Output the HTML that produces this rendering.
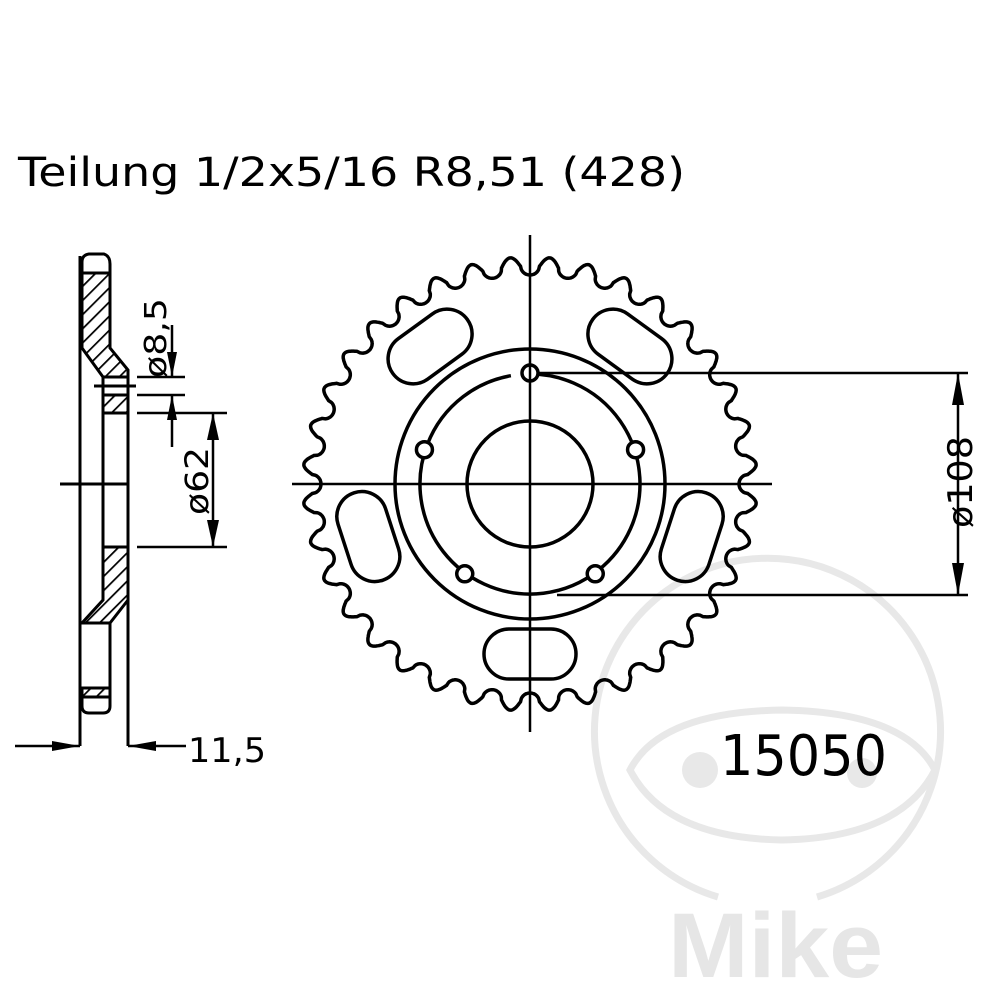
<!DOCTYPE html>
<html><head><meta charset="utf-8"><style>
html,body{margin:0;padding:0;background:#fff;}
svg{display:block;}
</style></head><body>
<svg id="s" width="1000" height="1000" viewBox="0 0 1000 1000" xmlns="http://www.w3.org/2000/svg">
<defs>
<pattern id="h" patternUnits="userSpaceOnUse" width="10" height="10" patternTransform="rotate(45)">
<rect width="10" height="10" fill="#fff"/><line x1="0" y1="0" x2="0" y2="10" stroke="#000" stroke-width="3.5"/>
</pattern>
</defs>
<g fill="none" stroke="#e8e8e8" stroke-width="7">
<path d="M718 897 A173 173 0 1 1 817 897"/>
<path d="M630 770 Q660 712 782 710 Q905 712 935 770 Q900 838 782 840 Q665 838 630 770 Z"/>
</g>
<circle cx="700" cy="770" r="18" fill="#e8e8e8"/>
<circle cx="862" cy="773" r="15" fill="#e8e8e8"/>
<text x="668" y="977" font-family="Liberation Sans, sans-serif" font-weight="bold" font-size="92" fill="#e6e6e6" textLength="215" lengthAdjust="spacingAndGlyphs">Mike</text>

<text x="18" y="186" font-family="DejaVu Sans, Liberation Sans, sans-serif" font-size="40" fill="#000" textLength="667" lengthAdjust="spacingAndGlyphs">Teilung 1/2x5/16 R8,51 (428)</text>
<text x="720" y="775" font-family="DejaVu Sans, Liberation Sans, sans-serif" font-size="56" fill="#000" textLength="167" lengthAdjust="spacingAndGlyphs">15050</text>

<g id="spr" fill="none" stroke="#000" stroke-width="3.5"></g>
<g stroke="#000" stroke-width="2.5" fill="none">
<line x1="530" y1="235" x2="530" y2="732"/>
<line x1="292" y1="484" x2="772" y2="484"/>
<line x1="537" y1="373" x2="968" y2="373"/>
<line x1="557" y1="595" x2="968" y2="595"/>
<line x1="958" y1="373" x2="958" y2="595"/>
</g>
<polygon points="958,373 952,405 964,405" fill="#000"/>
<polygon points="958,595 952,563 964,563" fill="#000"/>
<text transform="translate(972,528) rotate(-90)" font-family="DejaVu Sans, Liberation Sans, sans-serif" font-size="34" fill="#000" textLength="92" lengthAdjust="spacingAndGlyphs">ø108</text>

<g stroke="#000" stroke-width="3">
<path d="M82 262 Q82 255 89 254 L104 254 Q110 256 110 264 L110 273 L82 273 Z" fill="#fff"/>
<path d="M82 273 L110 273 L110 348 L128 370 L128 377 L103 377 L82 348 Z" fill="url(#h)"/>
<path d="M103 395 L128 395 L128 413 L103 413 Z" fill="url(#h)"/>
<path d="M103 547 L128 547 L128 600 L110 623 L82 623 L103 600 Z" fill="url(#h)"/>
<path d="M82 688 L110 688 L110 697 L82 697 Z" fill="url(#h)"/>
<path d="M82 697 L110 697 L110 706 Q110 713 103 713 L89 713 Q82 713 82 706 Z" fill="#fff"/>
<line x1="80" y1="256" x2="80" y2="746" fill="none"/>
<line x1="103" y1="377" x2="103" y2="547"/>
<line x1="128" y1="377" x2="128" y2="746"/>
<line x1="110" y1="623" x2="110" y2="688"/>
<line x1="94" y1="386" x2="136" y2="386"/>
<line x1="60" y1="484" x2="128" y2="484"/>
</g>
<g stroke="#000" stroke-width="2.5">
<line x1="137" y1="377" x2="185" y2="377"/>
<line x1="137" y1="395" x2="185" y2="395"/>
<line x1="172" y1="325" x2="172" y2="377"/>
<line x1="172" y1="395" x2="172" y2="447"/>
<line x1="137" y1="413" x2="227" y2="413"/>
<line x1="137" y1="547" x2="227" y2="547"/>
<line x1="213" y1="413" x2="213" y2="547"/>
<line x1="15" y1="746" x2="80" y2="746"/>
<line x1="128" y1="746" x2="186" y2="746"/>
</g>
<g fill="#000">
<polygon points="172,377 167,352 177,352"/>
<polygon points="172,395 167,420 177,420"/>
<polygon points="213,413 207,440 219,440"/>
<polygon points="213,547 207,520 219,520"/>
<polygon points="80,746 52,741 52,751"/>
<polygon points="128,746 156,741 156,751"/>
</g>
<text transform="translate(166,378) rotate(-90)" font-family="DejaVu Sans, Liberation Sans, sans-serif" font-size="30" fill="#000" textLength="80" lengthAdjust="spacingAndGlyphs">ø8,5</text>
<text transform="translate(208,515) rotate(-90)" font-family="DejaVu Sans, Liberation Sans, sans-serif" font-size="32" fill="#000" textLength="68" lengthAdjust="spacingAndGlyphs">ø62</text>
<text x="188" y="762" font-family="DejaVu Sans, Liberation Sans, sans-serif" font-size="34" fill="#000" textLength="78" lengthAdjust="spacingAndGlyphs">11,5</text>
</svg>
<script>
(function(){
var cx=530,cy=484,g=document.getElementById('spr'),ns='http://www.w3.org/2000/svg';
function P(r,a){var t=a*Math.PI/180;return [cx+r*Math.sin(t),cy-r*Math.cos(t)];}
var pts=[],N=36,p=360/N;
for(var i=0;i<N*60;i++){
 var a=i*p/60; var ph=((a%p)+p)%p; var phi=ph<=p/2?ph:p-ph; var u=phi/(p/2);
 var r;
 if(u<0.5){var v=u/0.5; r=209+9*(1-Math.sqrt(Math.max(0,1-v*v)));}
 else {var w=(u-0.5)/0.5; r=218+9*Math.sin(w*Math.PI/2);}
 pts.push(P(r,a));
}
function add(tag,at){var e=document.createElementNS(ns,tag);for(var k in at)e.setAttribute(k,at[k]);g.appendChild(e);return e;}
add('path',{d:'M'+pts.map(function(q){return q[0].toFixed(1)+' '+q[1].toFixed(1);}).join(' L')+' Z'});
add('circle',{cx:cx,cy:cy,r:135});
add('circle',{cx:cx,cy:cy,r:63});
var s=P(110,-10),e=P(110,-4);
add('path',{d:'M'+e[0].toFixed(1)+' '+e[1].toFixed(1)+' A110 110 0 1 1 '+s[0].toFixed(1)+' '+s[1].toFixed(1)});
[0,72,144,216,288].forEach(function(a){var q=P(111,a);add('circle',{cx:q[0],cy:q[1],r:8,fill:'#fff'});});
[36,108,180,252,324].forEach(function(a){var q=P(170,a);
 add('rect',{x:q[0]-46,y:q[1]-25,width:92,height:50,rx:25,ry:25,transform:'rotate('+a+' '+q[0]+' '+q[1]+')'});});
})();
</script>
</body></html>
